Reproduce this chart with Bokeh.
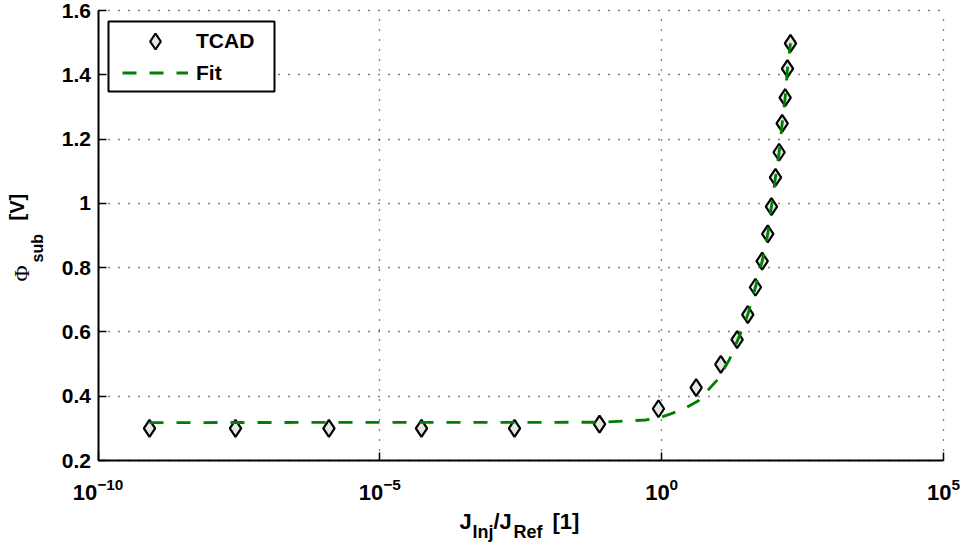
import math
from bokeh.plotting import figure
from bokeh.models import FixedTicker, Legend, LegendItem, Label, BoxAnnotation
from bokeh.embed import file_html
from bokeh.resources import INLINE

# ---------------- data ----------------
tcad_x = [8.2e-10, 2.75e-8, 1.25e-6, 5.48e-5, 2.45e-3, 7.9e-2, 0.877, 4.09, 11.2,
          21.8, 33.7, 46.1, 60.7, 76.2, 88.7, 104.5, 121.3, 137.4, 155.2, 170.6, 192.8]
tcad_y = [0.300, 0.300, 0.300, 0.300, 0.300, 0.313, 0.361, 0.427, 0.499,
          0.576, 0.654, 0.739, 0.820, 0.905, 0.990, 1.081, 1.159, 1.249, 1.329, 1.419, 1.498]

fit_x = [8.2e-10, 7.9e-2, 0.516, 0.877, 1.49, 2.44, 4.50, 10.2, 16.0, 22.1, 27.2,
         33.7, 46.1, 60.7, 76.2, 88.7, 104.5, 121.3, 137.4, 155.2, 170.6, 192.8]
fit_y = [0.318, 0.319, 0.326, 0.332, 0.346, 0.360, 0.386, 0.455, 0.515, 0.573, 0.610,
         0.654, 0.739, 0.820, 0.905, 0.990, 1.081, 1.159, 1.249, 1.329, 1.419, 1.498]

x_ticks = [1e-10, 1e-5, 1e0, 1e5]
y_ticks = [0.2, 0.4, 0.6, 0.8, 1.0, 1.2, 1.4, 1.6]
y_tick_labels = ["0.2", "0.4", "0.6", "0.8", "1", "1.2", "1.4", "1.6"]
legend_labels = ["TCAD", "Fit"]

FONT = "Liberation Sans"

# ---------------- layout (canvas pixels) ----------------
W, H = 963, 546
AX_LEFT, AX_RIGHT, AX_TOP, AX_BOTTOM = 97.5, 943.0, 10.0, 460.0

lx0, lx1 = math.log10(x_ticks[0]), math.log10(x_ticks[-1])
px_per_dec = (AX_RIGHT - AX_LEFT) / (lx1 - lx0)
x_start = 10 ** (lx0 - AX_LEFT / px_per_dec)
x_end = 10 ** (lx1 + (W - AX_RIGHT) / px_per_dec)
px_per_unit = (AX_BOTTOM - AX_TOP) / (y_ticks[-1] - y_ticks[0])
y_start = y_ticks[0] - (H - AX_BOTTOM) / px_per_unit
y_end = y_ticks[-1] + AX_TOP / px_per_unit

p = figure(width=W, height=H, x_axis_type="log",
           x_range=(x_start, x_end), y_range=(y_start, y_end),
           output_backend="svg", toolbar_location=None,
           min_border_left=0, min_border_right=0,
           min_border_top=0, min_border_bottom=0)
p.outline_line_color = None
p.background_fill_color = "white"
p.border_fill_color = "white"

# axes, placed at the data corner of the box
p.xaxis.ticker = FixedTicker(ticks=x_ticks, minor_ticks=[])
p.yaxis.ticker = FixedTicker(ticks=y_ticks, minor_ticks=[])
p.yaxis.major_label_overrides = dict(zip(y_ticks, y_tick_labels))
p.xaxis.fixed_location = y_ticks[0]
p.yaxis.fixed_location = x_ticks[0]
p.xaxis.bounds = (x_ticks[0], x_ticks[-1])
p.yaxis.bounds = (y_ticks[0], y_ticks[-1])
for ax in (p.xaxis[0], p.yaxis[0]):
    ax.axis_line_color = "black"
    ax.axis_line_width = 2
    ax.major_tick_line_color = "black"
    ax.major_tick_line_width = 1.5
    ax.major_tick_in = 8
    ax.major_tick_out = 0
    ax.minor_tick_in = 0
    ax.minor_tick_out = 0
    ax.major_label_text_font = FONT
    ax.major_label_text_font_style = "bold"
    ax.major_label_text_color = "black"
p.yaxis.major_label_text_font_size = "21px"
p.xaxis.major_label_text_font_size = "22px"
p.yaxis.major_label_standoff = 7
p.xaxis.major_label_standoff = 17

# grid limited to the data box
p.grid.grid_line_color = "#000000"
p.grid.grid_line_width = 1.3
p.grid.grid_line_dash = "1 9"
p.xgrid.cross_bounds = (y_ticks[0], y_ticks[-1])
p.ygrid.cross_bounds = (x_ticks[0], x_ticks[-1])

# data
r_tcad = p.scatter(tcad_x, tcad_y, marker="diamond", size=17,
                   fill_color="#e6e6e6", line_color="black", line_width=2.2)
r_fit = p.line(fit_x, fit_y, line_color="#008000", line_width=2.8, line_dash="14 13")

# legend frame (screen units: x from left, y from bottom)
box = BoxAnnotation(left=108, right=274, top=H - 21, bottom=H - 91,
                    left_units="screen", right_units="screen",
                    top_units="screen", bottom_units="screen",
                    fill_color="white", fill_alpha=1.0,
                    line_color="black", line_width=2, line_alpha=1.0)
p.add_layout(box)

common = dict(padding=0, spacing=0, margin=0, glyph_width=66, label_standoff=8,
              border_line_color=None, background_fill_alpha=0,
              label_text_font=FONT, label_text_font_style="bold",
              label_text_font_size="21px", label_text_color="black")
legend_a = Legend(items=[LegendItem(label=legend_labels[0], renderers=[r_tcad])],
                  location=(122, H - 61), glyph_height=40, label_height=40, **common)
legend_b = Legend(items=[LegendItem(label=legend_labels[1], renderers=[r_fit])],
                  location=(122, H - 88), glyph_height=31, label_height=31, **common)
p.add_layout(legend_a, "center")
p.add_layout(legend_b, "center")

# x axis title: J_Inj/J_Ref [1]   (X = left edge, Y = vertical centre, canvas px)
x_parts = [("J", 459, 520.5, "22px"), ("Inj", 472, 531, "18px"), ("/J", 493, 520.5, "22px"),
           ("Ref", 513, 531, "18px"), ("[1]", 552, 520.5, "22px")]
for t, X, Y, fs in x_parts:
    p.add_layout(Label(x=X, y=H - Y, x_units="screen", y_units="screen", text=t,
                       text_font=FONT, text_font_style="bold", text_font_size=fs,
                       text_align="left", text_baseline="middle", text_color="black"))

# y axis title: Phi_sub [V]  (rotated, reading upwards; X = centre, Y = start)
y_parts = [("\u03A6", 21, 281, "22px", "Liberation Serif", "normal"),
           ("sub", 36.5, 262, "16px", FONT, "bold"),
           ("[V]", 16, 220, "20px", FONT, "bold")]
for t, X, Y, fs, fnt, sty in y_parts:
    p.add_layout(Label(x=X, y=H - Y, x_units="screen", y_units="screen", text=t,
                       angle=math.pi / 2, text_font=fnt, text_font_style=sty,
                       text_font_size=fs, text_align="left",
                       text_baseline="middle", text_color="black"))

open("out.html", "w").write(file_html(p, INLINE))
